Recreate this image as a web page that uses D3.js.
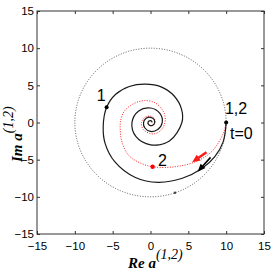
<!DOCTYPE html>
<html>
<head>
<meta charset="utf-8">
<script src="https://cdn.jsdelivr.net/npm/d3@7"></script>
<style>
  html, body { margin: 0; padding: 0; background: #fff; }
  svg { display: block; }
</style>
</head>
<body>
<div id="vis"></div>
<script>
// ticks
const xTicks = [-15, -10, -5, 0, 5, 10, 15];
const yTicks = [-15, -10, -5, 0, 5, 10, 15];

// dotted reference circle
const circleRadius = 10;

// trajectory 1 (black, solid)
const spiral1 = [
  [10, 0], [9.6, -2.6], [8.5, -4.6], [6.8, -6.2], [4.2, -7.5], [1.0, -8.05],
  [-2.0, -7.4], [-4.7, -5.3], [-6.0, -2.8], [-6.25, -0.5], [-5.8, 2.04],
  [-4.6, 3.8], [-2.8, 4.85], [-0.7, 5.15], [1.4, 4.8], [3.1, 3.6], [4.1, 1.8],
  [4.15, 0], [2.5, -2.5], [0, -3.0], [-1.91, -1.91], [-2.45, 0], [-1.56, 1.56],
  [0, 1.95], [1.24, 1.24], [1.55, 0], [0.95, -0.95], [0, -1.2], [-0.74, -0.74],
  [-0.92, 0], [-0.57, 0.57], [0, 0.7], [0.44, 0.44], [0.55, 0], [0.34, -0.34],
  [0, -0.42], [-0.26, -0.26], [-0.33, 0], [-0.2, 0.2], [0, 0.26], [0.16, 0.16],
  [0.2, 0]
];

// trajectory 2 (red, dotted)
const spiral2 = [
  [10, 0], [9.6, -1.5], [8.1, -3.9], [5.9, -5.3], [3.2, -5.95], [0.3, -5.96],
  [-1.45, -5.4], [-2.9, -4.4], [-3.77, -2.64], [-4.0, -1.0], [-3.93, 0.34],
  [-3.4, 1.6], [-2.15, 2.57], [-0.79, 2.95], [0.48, 2.71], [1.38, 1.97],
  [1.86, 1.08], [1.94, 0.17], [1.69, -0.62], [1.2, -1.2], [0.55, -1.5], [0, -1.5],
  [-0.95, -0.95], [-1.2, 0], [-0.71, 0.71], [0, 0.85], [0.51, 0.51], [0.62, 0],
  [0.37, -0.37], [0, -0.45], [-0.27, -0.27], [-0.32, 0], [-0.18, 0.18], [0, 0.25],
  [0.2, 0]
];

// markers
const dots1 = [[10, 0], [-5.8, 2.04]];
const dots2 = [[0.28, -5.96]];
const dotsCircle = [[3.23, -9.45]];

// direction arrows [tail, tip]
const arrow1 = [[7.94, -4.69], [6.23, -6.63]];
const arrow2 = [[7.4, -4.0], [5.5, -5.35]];

// annotations
const labelText = ["1", "2", "1,2", "t=0"];
const labelX = [-7.11, 0.98, 9.83, 10.5];
const labelY = [2.89, -5.86, 1.14, -2.23];

const FRAME_WIDTH = 273;
const FRAME_HEIGHT = 273;
const MARGINS = {left: 37, right: 9, top: 11, bottom: 39};

const FRAME = d3.select("#vis")
  .append("svg")
    .attr("width", FRAME_WIDTH)
    .attr("height", FRAME_HEIGHT);

const X_SCALE = d3.scaleLinear()
  .domain([-15, 15])
  .range([MARGINS.left, FRAME_WIDTH - MARGINS.right]);
const Y_SCALE = d3.scaleLinear()
  .domain([-15, 15])
  .range([FRAME_HEIGHT - MARGINS.bottom, MARGINS.top]);

const fmt = (d) => (d < 0 ? "\u2212" + Math.abs(d) : "" + d);

// axes (ticks point inward)
const bottomAxis = FRAME.append("g")
  .attr("transform", "translate(0," + Y_SCALE(-15) + ")")
  .call(d3.axisBottom(X_SCALE).tickValues(xTicks).tickFormat(fmt)
    .tickSizeInner(-3).tickSizeOuter(0).tickPadding(8));
const leftAxis = FRAME.append("g")
  .attr("transform", "translate(" + X_SCALE(-15) + ",0)")
  .call(d3.axisLeft(Y_SCALE).tickValues(yTicks).tickFormat(fmt)
    .tickSizeInner(-3).tickSizeOuter(0).tickPadding(3));
const topAxis = FRAME.append("g")
  .attr("transform", "translate(0," + Y_SCALE(15) + ")")
  .call(d3.axisTop(X_SCALE).tickValues(xTicks).tickFormat("")
    .tickSizeInner(-3).tickSizeOuter(0));
const rightAxis = FRAME.append("g")
  .attr("transform", "translate(" + X_SCALE(15) + ",0)")
  .call(d3.axisRight(Y_SCALE).tickValues(yTicks).tickFormat("")
    .tickSizeInner(-3).tickSizeOuter(0));

[bottomAxis, leftAxis, topAxis, rightAxis].forEach((a) => {
  a.select(".domain").remove();
  a.selectAll("line").attr("stroke", "#333");
  a.selectAll("text")
    .attr("fill", "#000")
    .style("font-family", "'Liberation Sans', Arial, sans-serif")
    .style("font-size", "11.5px");
});

// box
FRAME.append("rect")
  .attr("x", X_SCALE(-15))
  .attr("y", Y_SCALE(15))
  .attr("width", X_SCALE(15) - X_SCALE(-15))
  .attr("height", Y_SCALE(-15) - Y_SCALE(15))
  .attr("fill", "none")
  .attr("stroke", "#333")
  .attr("stroke-width", 1);

// dotted circle
FRAME.append("ellipse")
  .attr("cx", X_SCALE(0))
  .attr("cy", Y_SCALE(0))
  .attr("rx", X_SCALE(circleRadius) - X_SCALE(0))
  .attr("ry", Y_SCALE(0) - Y_SCALE(circleRadius))
  .attr("fill", "none")
  .attr("stroke", "#444")
  .attr("stroke-width", 0.9)
  .attr("stroke-dasharray", "1,1.6");

const line = d3.line()
  .x((d) => X_SCALE(d[0]))
  .y((d) => Y_SCALE(d[1]))
  .curve(d3.curveCatmullRom.alpha(0.5));

FRAME.append("path")
  .datum(spiral2)
  .attr("d", line)
  .attr("fill", "none")
  .attr("stroke", "#ff2020")
  .attr("stroke-width", 1)
  .attr("stroke-dasharray", "1,1.5");

FRAME.append("path")
  .datum(spiral1)
  .attr("d", line)
  .attr("fill", "none")
  .attr("stroke", "#1a1a1a")
  .attr("stroke-width", 1.2);

// arrows
function drawArrow(pts, color, width, headLen, headW) {
  const p0 = [X_SCALE(pts[0][0]), Y_SCALE(pts[0][1])];
  const p1 = [X_SCALE(pts[1][0]), Y_SCALE(pts[1][1])];
  const dx = p1[0] - p0[0], dy = p1[1] - p0[1];
  const len = Math.sqrt(dx * dx + dy * dy);
  const ux = dx / len, uy = dy / len;
  const bx = p1[0] - ux * headLen, by = p1[1] - uy * headLen;
  FRAME.append("line")
    .attr("x1", p0[0]).attr("y1", p0[1])
    .attr("x2", bx + ux).attr("y2", by + uy)
    .attr("stroke", color)
    .attr("stroke-width", width);
  FRAME.append("path")
    .attr("d", "M" + p1[0] + "," + p1[1] +
      "L" + (bx - uy * headW / 2) + "," + (by + ux * headW / 2) +
      "L" + (bx + uy * headW / 2) + "," + (by - ux * headW / 2) + "Z")
    .attr("fill", color);
}
drawArrow(arrow2, "#ff1a1a", 2.6, 8, 7);
drawArrow(arrow1, "#000", 1.6, 8, 6.5);

// markers
FRAME.append("g").selectAll("circle")
  .data(dotsCircle).enter().append("circle")
    .attr("cx", (d) => X_SCALE(d[0]))
    .attr("cy", (d) => Y_SCALE(d[1]))
    .attr("r", 1.3)
    .attr("fill", "#444");
FRAME.append("g").selectAll("circle")
  .data(dots1).enter().append("circle")
    .attr("cx", (d) => X_SCALE(d[0]))
    .attr("cy", (d) => Y_SCALE(d[1]))
    .attr("r", 2)
    .attr("fill", "#000");
FRAME.append("g").selectAll("circle")
  .data(dots2).enter().append("circle")
    .attr("cx", (d) => X_SCALE(d[0]))
    .attr("cy", (d) => Y_SCALE(d[1]))
    .attr("r", 2.2)
    .attr("fill", "#ff0000");

// annotations
FRAME.append("g").selectAll("text")
  .data(labelText).enter().append("text")
    .attr("x", (d, i) => X_SCALE(labelX[i]))
    .attr("y", (d, i) => Y_SCALE(labelY[i]))
    .style("font-family", "'Liberation Sans', Arial, sans-serif")
    .style("font-size", "16px")
    .text((d) => d);

// axis titles
const xTitle = FRAME.append("text")
  .attr("x", 128)
  .attr("y", 268)
  .style("font-family", "'Liberation Serif', 'Times New Roman', serif")
  .style("font-style", "italic");
xTitle.append("tspan").style("font-weight", "bold").style("font-size", "15px").text("Re a");
xTitle.append("tspan").attr("dy", -9).style("font-size", "14px").text("(1,2)");

const yTitle = FRAME.append("text")
  .attr("transform", "translate(22,162) rotate(-90)")
  .style("font-family", "'Liberation Serif', 'Times New Roman', serif")
  .style("font-style", "italic");
yTitle.append("tspan").style("font-weight", "bold").style("font-size", "15px").text("Im a");
yTitle.append("tspan").attr("dy", -9).style("font-size", "14px").text("(1,2)");
</script>
</body>
</html>
